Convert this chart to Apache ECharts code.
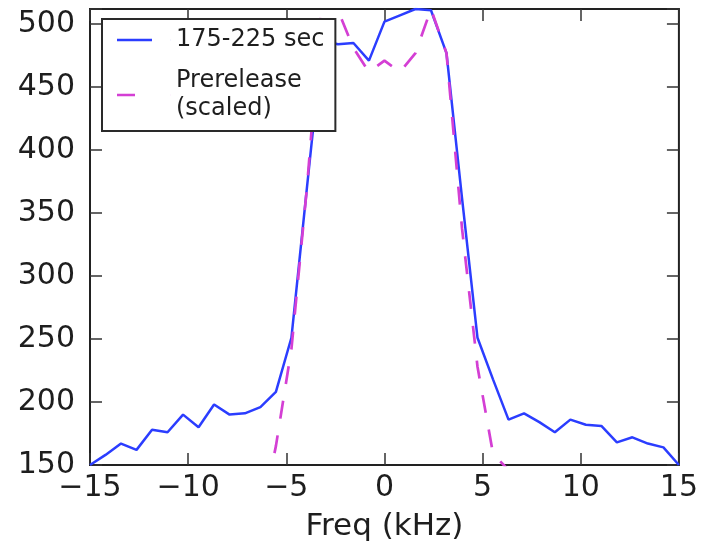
<!DOCTYPE html>
<html>
<head>
<meta charset="utf-8">
<script src="https://cdn.jsdelivr.net/npm/echarts@6/dist/echarts.min.js"></script>
<style>
    html, body { margin: 0; padding: 0; background: #fff; }
    #container { width: 701px; height: 548px; }
</style>
</head>
<body>
<div id="container"></div>
<script>
// frequency bins (kHz)
var freqX = [-15, -14.21, -13.42, -12.63, -11.84, -11.05, -10.26, -9.47, -8.68, -7.89,
    -7.11, -6.32, -5.53, -4.74, -3.95, -3.16, -2.37, -1.58, -0.79, 0,
    0.79, 1.58, 2.37, 3.16, 3.95, 4.74, 5.53, 6.32, 7.11, 7.89,
    8.68, 9.47, 10.26, 11.05, 11.84, 12.63, 13.42, 14.21, 15];
// 175-225 sec
var blueY = [150, 158, 167, 162, 178, 176, 190, 180, 198, 190,
    191, 196, 208, 251, 370, 487, 484, 485, 471, 502,
    507, 512, 511, 477, 362, 251, 218, 186, 191, 184,
    176, 186, 182, 181, 168, 172, 167, 164, 150];
// Prerelease (scaled)
var preX = [-6.32, -5.53, -4.74, -3.95, -3.16, -2.37, -1.58, -0.79, 0, 0.79,
    1.58, 2.37, 3.16, 3.95, 4.74, 5.53, 6.32, 7.11];
var preY = [105, 165, 242, 370, 522, 511, 481, 462, 471, 462,
    477, 512, 477, 338, 228, 159, 146, 110];

var xTicks = [-15, -10, -5, 0, 5, 10, 15];
var yTicks = [150, 200, 250, 300, 350, 400, 450, 500];

var FONT = 'DejaVu Sans';
var TEXT_COLOR = '#1e1e1e';
var BLUE = '#2b3dff';
var MAGENTA = '#d43fd4';

// legend icons: line sample plus an invisible sliver so the text sits further right
// (path box is 54 x 2.4, same as itemWidth x itemHeight, so nothing gets squashed)
var ICON_SOLID = 'path://M0,0 L35,0 L35,2.4 L0,2.4 Z M53.95,0 L54,0 L54,2.4 L53.95,2.4 Z';
var ICON_DASH = 'path://M0,0 L18,0 L18,2.4 L0,2.4 Z M53.95,0 L54,0 L54,2.4 L53.95,2.4 Z';

function pairs(xs, ys) {
    var out = [];
    for (var i = 0, l = xs.length; i < l; i++) {
        out.push([xs[i], ys[i]]);
    }
    return out;
}

function fmtX(v) {
    if (xTicks.indexOf(v) == -1) { return ''; }
    return v < 0 ? '\u2212' + Math.abs(v) : String(v);
}
function fmtY(v) {
    return yTicks.indexOf(v) == -1 ? '' : String(v);
}

var tickStyle = { inside: true, length: 12, lineStyle: { color: '#333', width: 1.5 } };
var noLine = { show: false, onZero: false };

var option = {
    animation: false,
    backgroundColor: '#fff',
    grid: {
        left: 90, right: 20, top: 9, bottom: 83,
        show: true,
        borderColor: '#222',
        borderWidth: 2,
        backgroundColor: 'transparent'
    },
    legend: {
        show: true,
        left: 102, top: 19,
        orient: 'vertical',
        selectedMode: false,
        backgroundColor: '#fff',
        borderColor: '#2a2a2a',
        borderWidth: 2,
        padding: [7, 11, 8, 15],
        itemGap: 13,
        itemWidth: 54,
        itemHeight: 2.4,
        textStyle: {
            fontFamily: FONT, fontSize: 24, lineHeight: 28, color: TEXT_COLOR
        },
        data: [
            { name: '175-225 sec', icon: ICON_SOLID, itemStyle: { color: BLUE } },
            { name: 'Prerelease\n(scaled)', icon: ICON_DASH, itemStyle: { color: MAGENTA } }
        ]
    },
    xAxis: [{
        type: 'value', min: -15, max: 15, interval: 5,
        axisLine: noLine,
        axisTick: tickStyle,
        splitLine: { show: false },
        axisLabel: { fontFamily: FONT, fontSize: 30, color: TEXT_COLOR, margin: 8, formatter: fmtX },
        name: 'Freq (kHz)',
        nameLocation: 'middle',
        nameGap: 46,
        nameTextStyle: { fontFamily: FONT, fontSize: 31, color: TEXT_COLOR }
    }, {
        type: 'value', min: -15, max: 15, interval: 5, position: 'top',
        axisLine: noLine,
        axisTick: tickStyle,
        splitLine: { show: false },
        axisLabel: { show: false }
    }],
    yAxis: [{
        type: 'value', min: 150, max: 512, interval: 50,
        axisLine: noLine,
        axisTick: tickStyle,
        splitLine: { show: false },
        axisLabel: { fontFamily: FONT, fontSize: 30, color: TEXT_COLOR, margin: 15, formatter: fmtY }
    }, {
        type: 'value', min: 150, max: 512, interval: 50, position: 'right',
        axisLine: noLine,
        axisTick: tickStyle,
        splitLine: { show: false },
        axisLabel: { show: false }
    }],
    series: [{
        name: '175-225 sec',
        type: 'line',
        xAxisIndex: 0, yAxisIndex: 0,
        symbol: 'none',
        clip: true,
        lineStyle: { color: BLUE, width: 2.5 },
        itemStyle: { color: BLUE },
        data: pairs(freqX, blueY)
    }, {
        name: 'Prerelease\n(scaled)',
        type: 'line',
        xAxisIndex: 0, yAxisIndex: 0,
        symbol: 'none',
        clip: true,
        lineStyle: { color: MAGENTA, width: 2.7, type: [18, 17] },
        itemStyle: { color: MAGENTA },
        data: pairs(preX, preY)
    }]
};

var myChart = echarts.init(document.getElementById('container'), null, { renderer: 'canvas' });
myChart.setOption(option);
</script>
</body>
</html>
